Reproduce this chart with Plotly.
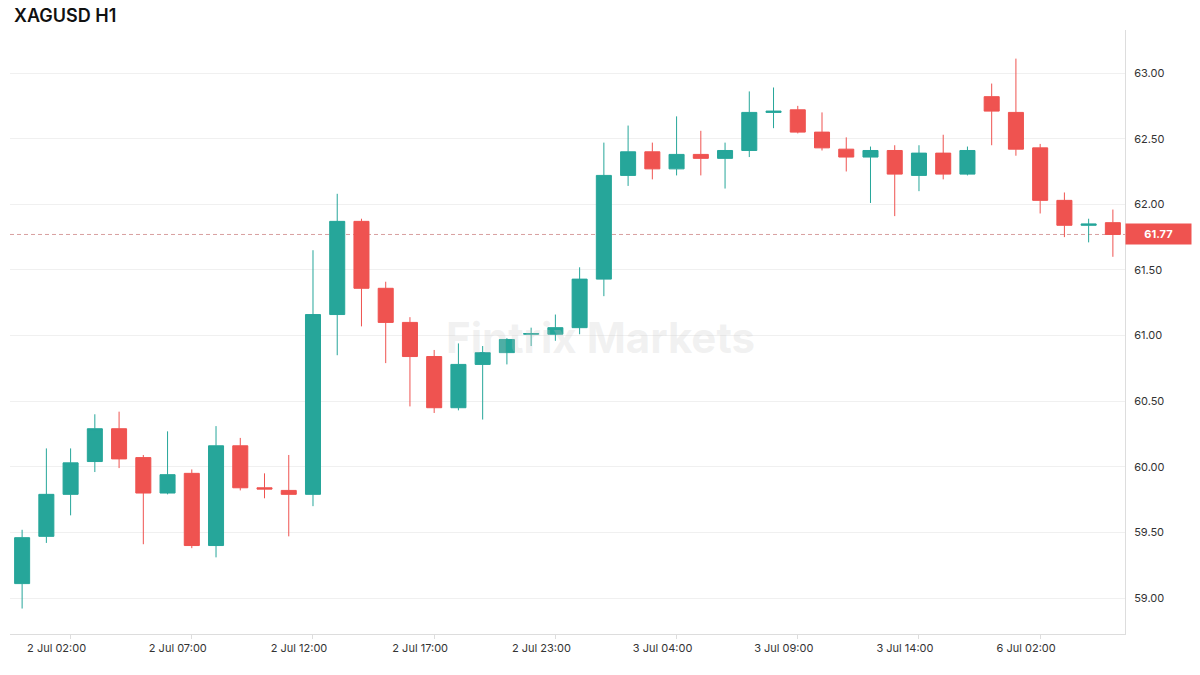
import plotly.graph_objects as go

# ---- data ----
times = (
    [f"2 Jul {h:02d}:00" for h in range(0, 22)]
    + ["2 Jul 23:00"]
    + [f"3 Jul {h:02d}:00" for h in range(0, 17)]
    + [f"6 Jul {h:02d}:00" for h in range(0, 6)]
)

opens = [59.11, 59.47, 59.79, 60.04, 60.29, 60.07, 59.80, 59.95, 59.40, 60.16,
         59.84, 59.82, 59.79, 61.16, 61.87, 61.36, 61.10, 60.84, 60.45, 60.78,
         60.87, 61.01, 61.01, 61.06, 61.43, 62.22, 62.40, 62.27, 62.38, 62.35,
         62.41, 62.70, 62.72, 62.55, 62.42, 62.36, 62.41, 62.22, 62.39, 62.23,
         62.82, 62.70, 62.43, 62.03, 61.84, 61.86]
highs = [59.52, 60.14, 60.14, 60.40, 60.42, 60.09, 60.27, 59.98, 60.31, 60.22,
         59.95, 60.09, 61.65, 62.08, 61.89, 61.41, 61.14, 60.89, 60.94, 60.92,
         60.98, 61.06, 61.16, 61.52, 62.47, 62.60, 62.47, 62.67, 62.56, 62.47,
         62.86, 62.89, 62.75, 62.70, 62.51, 62.44, 62.45, 62.45, 62.53, 62.44,
         62.92, 63.11, 62.46, 62.09, 61.89, 61.96]
lows = [58.92, 59.42, 59.63, 59.96, 59.99, 59.41, 59.79, 59.38, 59.31, 59.82,
        59.76, 59.47, 59.70, 60.85, 61.07, 60.79, 60.46, 60.41, 60.43, 60.36,
        60.78, 60.92, 60.96, 61.01, 61.30, 62.14, 62.19, 62.22, 62.22, 62.12,
        62.36, 62.58, 62.54, 62.41, 62.25, 62.01, 61.91, 62.10, 62.19, 62.22,
        62.45, 62.37, 61.93, 61.75, 61.71, 61.60]
closes = [59.46, 59.79, 60.03, 60.29, 60.06, 59.80, 59.94, 59.40, 60.16, 59.84,
          59.83, 59.79, 61.16, 61.87, 61.36, 61.10, 60.84, 60.45, 60.78, 60.87,
          60.97, 61.015, 61.06, 61.43, 62.22, 62.40, 62.27, 62.38, 62.35, 62.41,
          62.70, 62.71, 62.55, 62.43, 62.36, 62.41, 62.23, 62.39, 62.23, 62.41,
          62.71, 62.42, 62.03, 61.84, 61.85, 61.77]

tick_idx = [2, 7, 12, 17, 22, 27, 32, 37, 42]
tick_vals = [times[i] for i in tick_idx]
tick_text = tick_vals

last_price = 61.77
title_text = "XAGUSD H1"
watermark = "Fintrix Markets"

UP = "#26a69a"
DOWN = "#ef5350"

fig = go.Figure()
fig.add_trace(go.Candlestick(
    x=times, open=opens, high=highs, low=lows, close=closes,
    increasing=dict(line=dict(color=UP, width=1), fillcolor=UP),
    decreasing=dict(line=dict(color=DOWN, width=1), fillcolor=DOWN),
    whiskerwidth=0,
    hoverinfo="x+y",
    showlegend=False,
))

fig.add_shape(type="line", xref="paper", x0=0, x1=1, yref="y",
              y0=last_price, y1=last_price,
              line=dict(color="rgba(200,120,120,0.7)", width=1, dash="4px,3px"),
              layer="below")

fig.add_annotation(xref="paper", x=1.0, yref="y", y=last_price,
                   xanchor="left", yanchor="middle", xshift=0,
                   text=f"<b>{last_price:.2f}</b>", showarrow=False,
                   bgcolor=DOWN, font=dict(color="white", size=11, family="Inter"),
                   width=61, height=16, borderpad=2)

fig.add_annotation(xref="paper", x=(600 - 10) / 1115, yref="paper", y=(634 - 338) / 604,
                   text=f"<b>{watermark}</b>", showarrow=False,
                   font=dict(color="rgba(200,200,200,0.25)", size=42, family="Inter"),
                   xanchor="center", yanchor="middle")

fig.update_layout(
    width=1200, height=675,
    margin=dict(l=10, r=75, t=30, b=41),
    paper_bgcolor="white", plot_bgcolor="white",
    title=dict(text=title_text, x=14 / 1200, xanchor="left", y=1 - 16 / 675,
               yanchor="middle", font=dict(family="Inter", size=18, color="#111111", weight=600)),
    font=dict(family="Inter", size=11, color="#333333"),
    boxgap=0.38, boxgroupgap=0,
    hovermode="x",
)

fig.update_xaxes(
    type="category", categoryorder="array", categoryarray=times,
    range=[-0.5, 45.5],
    rangeslider=dict(visible=False),
    showgrid=False, zeroline=False,
    showline=True, linecolor="#dddddd", linewidth=1,
    ticks="outside", ticklen=4, tickcolor="#dddddd",
    tickvals=tick_vals, ticktext=tick_text,
    ticklabelshift=-14,
    tickfont=dict(size=11, color="#333333"),
)

fig.update_yaxes(
    side="right", range=[58.726, 63.328],
    dtick=0.5, tick0=59, tickformat=".2f",
    showgrid=True, gridcolor="#f0f0f0", gridwidth=1,
    zeroline=False,
    showline=True, linecolor="#dddddd", linewidth=1,
    ticks="", ticklabelstandoff=6,
    tickfont=dict(size=11, color="#333333"),
)

fig.write_html("out.html")
